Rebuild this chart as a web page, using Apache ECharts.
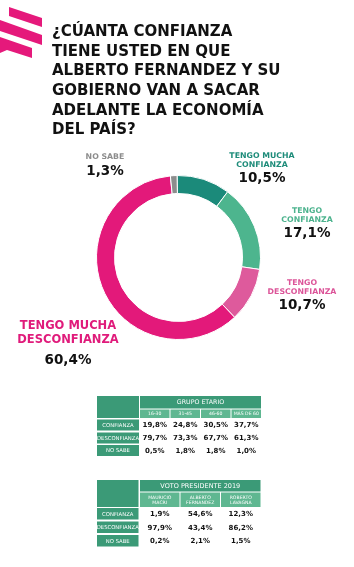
<!DOCTYPE html>
<html><head><meta charset="utf-8">
<script src="https://cdn.jsdelivr.net/npm/echarts@6/dist/echarts.min.js"></script>
<style>html,body{margin:0;padding:0;background:#fff;}#c{width:354px;height:567px;}</style>
</head><body><div id="c"></div>
<script>
// ---- data ----
const titleLines = ['¿CÚANTA CONFIANZA','TIENE USTED EN QUE','ALBERTO FERNANDEZ Y SU','GOBIERNO VAN A SACAR','ADELANTE LA ECONOMÍA','DEL PAÍS?'];
const sliceNames = ['TENGO MUCHA\nCONFIANZA','TENGO\nCONFIANZA','TENGO\nDESCONFIANZA','TENGO MUCHA\nDESCONFIANZA','NO SABE'];
const sliceValues = [10.5, 17.1, 10.7, 60.4, 1.3];
const sliceColors = ['#1b8a7a','#4db58e','#de5a9c','#e3197a','#8d8d8d'];
const labelColors = ['#1e8c7a','#4db38e','#dc5599','#e01b7b','#8c8c8c'];

const rowLabels = ['CONFIANZA','DESCONFIANZA','NO SABE'];
const ageGroups = ['16-30','31-45','46-60','MÁS DE 60'];
const ageConfianza = [19.8, 24.8, 30.5, 37.7];
const ageDesconfianza = [79.7, 73.3, 67.7, 61.3];
const ageNoSabe = [0.5, 1.8, 1.8, 1.0];
const voteCandidates = ['MAURICIO\nMACRI','ALBERTO\nFERNANDEZ','ROBERTO\nLAVAGNA'];
const voteConfianza = [1.9, 54.6, 12.3];
const voteDesconfianza = [97.9, 43.4, 86.2];
const voteNoSabe = [0.2, 2.1, 1.5];

// ---- helpers ----
const fmt = v => v.toFixed(1).replace('.', ',') + '%';
const FONT = '"DejaVu Sans", sans-serif';
const DARK = '#3b9a77', LIGHT = '#5fb791';

function txt(text, x, y, size, color, weight, extra) {
  return Object.assign({
    type: 'text', silent: true,
    style: Object.assign({
      text: text, x: x, y: y, fill: color,
      fontSize: size, fontWeight: weight || 'normal', fontFamily: FONT,
      align: 'center', verticalAlign: 'middle',
      textAlign: 'center', textVerticalAlign: 'middle'
    }, extra || {})
  });
}
function rect(x, y, w, h, color) {
  return { type: 'rect', silent: true, shape: { x: x, y: y, width: w, height: h }, style: { fill: color } };
}

function buildTable(g, cfg) {
  const { left, labelW, colXs, colW, top, headH, subH, rowYs, rowH, header, subs, rows, headSize, subSize, subLH } = cfg;
  const right = colXs[colXs.length - 1] + colW;
  g.push(rect(left, top, labelW, headH + subH + 1, DARK));
  g.push(rect(colXs[0], top, right - colXs[0], headH, DARK));
  g.push(txt(header, (colXs[0] + right) / 2, top + headH / 2 + 0.5, headSize, '#fff', 'normal'));
  subs.forEach((s, i) => {
    g.push(rect(colXs[i], top + headH + 1, colW, subH, LIGHT));
    g.push(txt(s, colXs[i] + colW / 2, top + headH + 1 + subH / 2 + 0.5, subSize, '#fff', 'normal', { lineHeight: subLH }));
  });
  rows.forEach((vals, r) => {
    g.push(rect(left, rowYs[r], labelW, rowH, DARK));
    g.push(txt(rowLabels[r], left + labelW / 2, rowYs[r] + rowH / 2 + 0.5, 5.3, '#fff', 'normal'));
    vals.forEach((v, i) => {
      g.push(txt(fmt(v), colXs[i] + colW / 2, rowYs[r] + rowH / 2 + 0.5, 7, '#111', 'bold'));
    });
  });
}

const graphics = [];
// decorative stripes
const PINK = '#e5197b';
[[[9,7],[42,18],[42,27],[9,16]],
 [[0,20],[42,35],[42,45],[0,31]],
 [[0,37],[32,48],[32,58],[7,50],[0,53]]].forEach(p => {
  graphics.push({ type: 'polygon', silent: true, shape: { points: p }, style: { fill: PINK } });
});
// title
graphics.push(txt(titleLines.join('\n'), 52, 22.5, 15, '#111', 'bold',
  { align: 'left', textAlign: 'left', verticalAlign: 'top', textVerticalAlign: 'top', lineHeight: 19.6 }));

buildTable(graphics, {
  left: 97, labelW: 42, colXs: [140, 170.5, 201, 231.5], colW: 29.5,
  top: 396, headH: 12.5, subH: 8.5, rowYs: [419.5, 432.5, 445], rowH: 11,
  header: 'GRUPO ETARIO', subs: ageGroups, headSize: 6.3, subSize: 4.6, subLH: 5.5,
  rows: [ageConfianza, ageDesconfianza, ageNoSabe]
});
buildTable(graphics, {
  left: 97, labelW: 41.5, colXs: [140, 180.5, 221], colW: 39.5,
  top: 480, headH: 11.5, subH: 14.5, rowYs: [508, 521.5, 535], rowH: 11.5,
  header: 'VOTO PRESIDENTE 2019', subs: voteCandidates, headSize: 6.5, subSize: 4.6, subLH: 5.5,
  rows: [voteConfianza, voteDesconfianza, voteNoSabe]
});

// label layout (block tops, centers)
const labelPos = [[262, 151.5], [307, 206.5], [302, 278.5], [68, 319], [105, 152]];
const rich = {
  v: { fontSize: 13.5, fontWeight: 'bold', color: '#111', lineHeight: 17, fontFamily: FONT, align: 'center' },
  vb: { fontSize: 13.5, fontWeight: 'bold', color: '#111', lineHeight: 27, fontFamily: FONT, align: 'center' },
  vn: { fontSize: 13.5, fontWeight: 'bold', color: '#111', lineHeight: 20, fontFamily: FONT, align: 'center' }
};
labelColors.forEach((c, i) => {
  const big = i === 3;
  rich['n' + i] = { fontSize: big ? 11.5 : 7.8, fontWeight: 'bold', color: c, lineHeight: big ? 14 : 9, fontFamily: FONT, align: 'center' };
});

const chart = echarts.init(document.getElementById('c'), null, { renderer: 'canvas' });
chart.setOption({
  animation: false,
  graphic: { elements: graphics },
  series: [{
    type: 'pie',
    center: [178.5, 257.5],
    radius: [64, 82],
    startAngle: 91,
    clockwise: true,
    avoidLabelOverlap: false,
    silent: true,
    itemStyle: { borderColor: '#fff', borderWidth: 1 },
    emphasis: { disabled: true },
    labelLine: { show: false },
    label: {
      show: true, position: 'outside',
      rich: rich,
      formatter: p => {
        const i = p.dataIndex;
        const vk = i === 3 ? 'vb' : (i === 4 ? 'vn' : 'v');
        return p.name.split('\n').map(l => '{n' + i + '|' + l + '}').join('\n') + '\n{' + vk + '|' + fmt(p.value) + '}';
      }
    },
    labelLayout: p => ({ x: labelPos[p.dataIndex][0], y: labelPos[p.dataIndex][1], align: 'center', verticalAlign: 'top' }),
    data: sliceNames.map((n, i) => ({ name: n, value: sliceValues[i], itemStyle: { color: sliceColors[i] } }))
  }]
});
</script>
</body></html>
